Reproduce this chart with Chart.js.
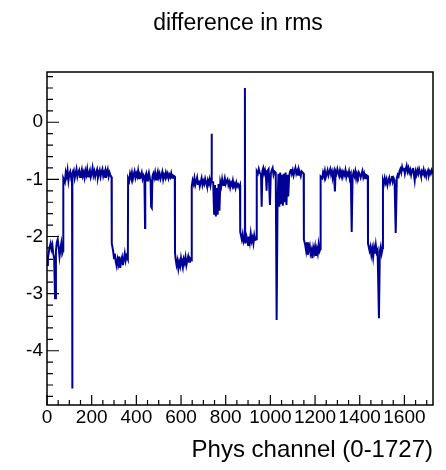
<!DOCTYPE html>
<html>
<head>
<meta charset="utf-8">
<script src="https://cdn.jsdelivr.net/npm/chart.js@4"></script>
<style>
    body { margin: 0; background: #fff; }
    canvas { display: block; }
</style>
</head>
<body>
<canvas id="rmsChart" width="446" height="470"></canvas>
<script>
const channel = [
    0, 4, 8, 12, 16, 20, 24, 28, 32, 36, 40, 44, 48, 52, 56, 60, 64, 68, 72,
    73, 80, 84, 88, 92, 96, 100, 104, 108, 112, 113, 114, 120, 124, 128, 132, 136, 140, 144, 148, 152, 156, 160, 164, 168, 172, 176, 180, 184, 188, 192, 196, 200, 204, 208, 212, 216, 220, 224, 228, 232, 236, 240, 244, 248, 252, 256, 260, 264, 268, 272, 276, 280, 284, 289,
    290, 296, 300, 304, 308, 312, 316, 320, 324, 328, 332, 336, 340, 344, 348, 352, 356, 362,
    363, 368, 372, 376, 380, 384, 388, 392, 396, 400, 404, 408, 412, 416, 420, 424, 428, 432, 436, 439, 440, 444, 448, 452, 456, 460, 464, 466, 468, 470, 472, 476, 480, 484, 488, 492, 496, 500, 504, 508, 512, 516, 520, 524, 528, 532, 536, 540, 544, 548, 552, 556, 560, 564, 572,
    573, 576, 580, 584, 588, 592, 596, 600, 604, 608, 612, 616, 620, 624, 628, 632, 636, 640, 647,
    648, 652, 656, 660, 664, 668, 672, 676, 680, 684, 688, 692, 696, 700, 704, 708, 712, 716, 720, 724, 728, 732, 736, 737, 738, 744, 748, 752, 756, 760, 764, 768, 772, 776, 780, 784, 788, 792, 796, 800, 804, 808, 812, 816, 820, 824, 828, 832, 836, 840, 844, 848, 852, 856, 860, 864,
    865, 872, 876, 880, 885, 886, 887, 888, 892, 896, 900, 904, 908, 912, 916, 920, 924, 928, 932, 938,
    939, 944, 948, 952, 958, 961, 964, 968, 972, 976, 980, 983, 986, 992, 998, 1002, 1006, 1010, 1014, 1018, 1024, 1028, 1032, 1036, 1040, 1044, 1048, 1052, 1056, 1060, 1064, 1068, 1072, 1076, 1080, 1084, 1088, 1092, 1096, 1100, 1104, 1108, 1112, 1116, 1120, 1124, 1128, 1132, 1136, 1140, 1149,
    1150, 1156, 1160, 1164, 1168, 1172, 1176, 1180, 1184, 1188, 1192, 1196, 1200, 1204, 1208, 1212, 1216, 1220, 1224,
    1225, 1232, 1236, 1240, 1244, 1248, 1252, 1256, 1260, 1264, 1268, 1272, 1276, 1280, 1284, 1289, 1292, 1296, 1300, 1304, 1308, 1312, 1316, 1320, 1324, 1328, 1332, 1336, 1340, 1344, 1348, 1352, 1356, 1360, 1364, 1368, 1372, 1376, 1380, 1384, 1388, 1392, 1396, 1400, 1404, 1408, 1412, 1416, 1420, 1424, 1428, 1436,
    1437, 1444, 1448, 1452, 1456, 1460, 1464, 1468, 1472, 1476, 1480, 1486, 1490, 1494, 1498, 1503,
    1504, 1508, 1512, 1516, 1520, 1524, 1528, 1532, 1536, 1540, 1544, 1548, 1552, 1556, 1561, 1566, 1570, 1574, 1578, 1582, 1586, 1590, 1594, 1598, 1602, 1606, 1610, 1614, 1618, 1622, 1626, 1630, 1634, 1638, 1642, 1646, 1650, 1654, 1658, 1662, 1666, 1670, 1674, 1678, 1682, 1686, 1690, 1694, 1698, 1702, 1706, 1710, 1714, 1718, 1722, 1727
];
const rmsDiff = [
    -2.5, -2.38, -2.28, -2.18, -2.12, -2.22, -2.15, -2.3, -2.38, -3.08, -2.25, -2.1, -2.05, -2.18, -2.35, -2.22, -2.12, -2.3, -2.25,
    -0.98, -1.05, -0.88, -0.95, -0.84, -1.02, -0.9, -0.86, -0.97, -0.92, -4.66, -0.94, -0.85, -0.98, -0.9, -0.82, -0.95, -0.88, -0.84, -0.96, -0.9, -0.83, -0.94, -0.88, -0.97, -0.85, -0.92, -0.82, -0.95, -0.89, -0.84, -0.96, -0.9, -0.8, -0.93, -0.86, -0.95, -0.88, -0.83, -0.97, -0.9, -0.84, -0.95, -0.87, -0.82, -0.94, -0.88, -0.96, -0.85, -0.9, -0.83, -0.95, -0.88, -0.93, -0.96,
    -2.12, -2.25, -2.38, -2.3, -2.45, -2.52, -2.4, -2.48, -2.35, -2.55, -2.42, -2.36, -2.5, -2.4, -2.3, -2.42, -2.34, -2.4,
    -0.98, -1.03, -0.9, -0.96, -0.88, -1.0, -0.92, -0.86, -0.97, -0.9, -0.95, -0.85, -0.98, -0.91, -0.94, -0.88, -0.99, -0.93, -0.97, -1.85, -0.95, -0.9, -1.02, -0.94, -0.88, -0.97, -1.05, -1.48, -1.0, -1.5, -0.95, -0.9, -0.97, -0.88, -1.0, -0.92, -0.86, -0.96, -0.9, -0.99, -0.93, -0.87, -1.0, -0.92, -0.96, -0.88, -0.95, -0.9, -0.98, -0.92, -0.96, -0.89, -0.97, -0.93, -0.95,
    -2.28, -2.4, -2.5, -2.42, -2.56, -2.45, -2.52, -2.38, -2.48, -2.55, -2.4, -2.46, -2.36, -2.5, -2.42, -2.35, -2.44, -2.38, -2.42,
    -1.12, -1.02, -1.08, -0.98, -1.1, -1.04, -0.97, -1.08, -1.02, -1.12, -1.05, -0.98, -1.1, -1.03, -1.08, -0.99, -1.06, -1.12, -1.02, -1.08, -1.0, -1.1, -1.0, -0.2, -1.04, -1.05, -1.6, -1.1, -1.65, -1.15, -1.62, -1.08, -1.55, -1.05, -1.12, -1.0, -1.1, -1.06, -0.98, -1.08, -1.03, -1.0, -1.1, -1.05, -1.14, -1.06, -1.1, -1.02, -1.12, -1.08, -1.15, -1.06, -1.12, -1.09, -1.14, -1.1,
    -1.92, -2.05, -1.96, -2.08, -2.0, 0.6, -2.05, -2.12, -1.98, -2.04, -2.15, -2.0, -2.1, -1.95, -2.08, -2.02, -2.12, -1.98, -2.06, -2.05,
    -0.86, -0.9, -0.82, -0.88, -0.92, -1.48, -0.85, -0.8, -0.9, -0.84, -0.93, -1.2, -0.86, -0.82, -1.45, -0.9, -0.84, -0.8, -0.92, -0.86, -0.88, -3.46, -1.45, -0.9, -1.48, -0.88, -1.42, -0.92, -1.46, -0.9, -1.4, -0.88, -1.45, -0.92, -1.3, -0.95, -0.86, -0.82, -0.9, -0.84, -0.93, -0.86, -0.8, -0.9, -0.85, -0.92, -0.83, -0.88, -0.94, -0.86, -0.9,
    -2.05, -2.15, -2.25, -2.1, -2.32, -2.2, -2.15, -2.3, -2.24, -2.38, -2.2, -2.28, -2.18, -2.34, -2.22, -2.3, -2.14, -2.26, -2.22,
    -0.95, -0.98, -0.88, -0.94, -0.85, -0.96, -0.9, -0.84, -0.93, -0.87, -0.82, -0.92, -0.86, -0.95, -0.88, -1.21, -0.86, -0.9, -0.82, -0.88, -0.94, -0.84, -0.9, -0.86, -0.95, -0.88, -0.92, -0.84, -0.96, -0.89, -0.93, -0.86, -0.97, -0.92, -1.92, -0.95, -0.88, -0.94, -0.86, -0.98, -0.9, -0.95, -0.88, -0.92, -0.97, -0.9, -0.85, -0.96, -0.9, -0.98, -0.92, -0.94,
    -2.12, -2.25, -2.18, -2.32, -2.22, -2.36, -2.2, -2.3, -2.15, -2.28, -2.24, -3.43, -2.26, -2.18, -2.3, -2.2,
    -1.02, -1.08, -0.98, -1.06, -1.0, -1.1, -1.02, -0.97, -1.06, -1.0, -0.94, -1.04, -0.98, -1.02, -1.94, -0.98, -0.92, -0.95, -0.86, -0.82, -0.88, -0.78, -0.84, -0.8, -0.9, -0.82, -0.76, -0.86, -0.8, -0.88, -0.83, -0.92, -0.84, -0.8, -0.9, -1.02, -0.86, -0.92, -0.84, -0.9, -0.82, -0.88, -0.94, -0.86, -0.9, -0.83, -0.92, -0.87, -0.95, -0.88, -0.84, -0.92, -0.86, -0.9, -0.84, -0.9
];
const xTickValues = [0, 200, 400, 600, 800, 1000, 1200, 1400, 1600];
const yTickValues = [0, -1, -2, -3, -4];

const chartTitle = "difference in rms";
const xAxisTitle = "Phys channel (0-1727)";
const FONT = "'Liberation Sans', Arial, Helvetica, sans-serif";

// ROOT style: frame box, ticks pointing inside, minor ticks, titles
const rootFrame = {
    id: "rootFrame",
    afterDraw(chart) {
        const { ctx, chartArea: area, scales } = chart;
        const xs = scales.x, ys = scales.y;
        ctx.save();
        ctx.strokeStyle = "#000";
        ctx.lineWidth = 1.5;
        ctx.strokeRect(area.left, area.top, area.right - area.left, area.bottom - area.top);

        ctx.lineWidth = 1.2;
        ctx.beginPath();
        for (let v = 0; v <= xs.max; v += 50) {
            const px = xs.getPixelForValue(v);
            const len = v % 200 === 0 ? 10 : 5;
            ctx.moveTo(px, area.bottom);
            ctx.lineTo(px, area.bottom - len);
        }
        for (let i = 4; i >= -24; i--) {
            const v = i / 5;
            if (v > ys.max || v < ys.min) continue;
            const py = ys.getPixelForValue(v);
            const len = i % 5 === 0 ? 12 : 6;
            ctx.moveTo(area.left, py);
            ctx.lineTo(area.left + len, py);
        }
        ctx.stroke();

        ctx.fillStyle = "#000";
        ctx.font = "23px " + FONT;
        ctx.textAlign = "center";
        ctx.textBaseline = "alphabetic";
        ctx.fillText(chartTitle, 238, 30);

        ctx.font = "24px " + FONT;
        ctx.textAlign = "right";
        ctx.fillText(xAxisTitle, area.right, 457);
        ctx.restore();
    }
};

const ctx = document.getElementById("rmsChart").getContext("2d");
new Chart(ctx, {
    type: "scatter",
    data: {
        datasets: [{
            data: channel.map((c, i) => ({ x: c, y: rmsDiff[i] })),
            showLine: true,
            borderColor: "rgb(0, 0, 150)",
            borderWidth: 2,
            pointRadius: 0,
            tension: 0,
            fill: false
        }]
    },
    options: {
        responsive: false,
        animation: false,
        layout: { padding: { top: 72, right: 13, left: 0, bottom: 0 } },
        plugins: {
            legend: { display: false },
            tooltip: { enabled: false }
        },
        scales: {
            x: {
                type: "linear",
                min: 0,
                max: 1728,
                grid: { display: false, drawTicks: false },
                border: { display: false },
                afterBuildTicks: scale => { scale.ticks = xTickValues.map(v => ({ value: v })); },
                afterFit: scale => { scale.height = 65; },
                ticks: {
                    color: "#000",
                    padding: 1,
                    maxRotation: 0,
                    autoSkip: false,
                    font: { family: FONT, size: 19 },
                    callback: v => String(v)
                }
            },
            y: {
                type: "linear",
                min: -4.95,
                max: 0.88,
                grid: { display: false, drawTicks: false },
                border: { display: false },
                afterBuildTicks: scale => { scale.ticks = yTickValues.map(v => ({ value: v })); },
                afterFit: scale => { scale.width = 47; },
                ticks: {
                    color: "#000",
                    padding: 4,
                    font: { family: FONT, size: 19 },
                    callback: v => String(v)
                }
            }
        }
    },
    plugins: [rootFrame]
});
</script>
</body>
</html>
